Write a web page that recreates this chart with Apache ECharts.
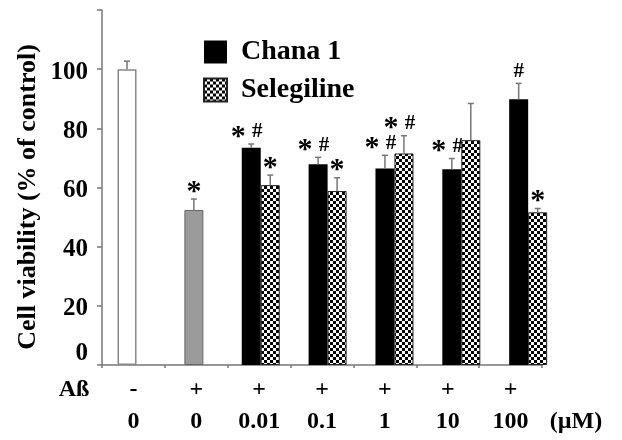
<!DOCTYPE html>
<html><head><meta charset="utf-8">
<script src="https://cdn.jsdelivr.net/npm/echarts@6/dist/echarts.min.js"></script>
<style>html,body{margin:0;padding:0;background:#fff}#c{width:622px;height:440px}</style>
</head><body><div id="c"></div>
<script>
// ---- data ----
const categories = ['0', '0', '0.01', '0.1', '1', '10', '100'];
const abLabels = ['-', '+', '+', '+', '+', '+', '+'];
const yTicks = [0, 20, 40, 60, 80, 100];
const singleValues = [100, 52.4, null, null, null, null, null];
const singleErrors = [2.7, 3.7, null, null, null, null, null];
const singleMarks = ['', '*', '', '', '', '', ''];
const chanaValues = [null, null, 73.4, 67.9, 66.4, 66.2, 89.8];
const chanaErrors = [null, null, 1.3, 2.3, 4.5, 3.6, 5.4];
const chanaMarks = ['', '', '*#', '*#', '*#', '*#', '#'];
const selegValues = [null, null, 60.8, 58.8, 71.5, 76.0, 51.6];
const selegErrors = [null, null, 3.4, 4.5, 6.0, 12.4, 1.3];
const selegMarks = ['', '', '*', '*', '*#', '', '*'];

const SERIF = '"Liberation Serif", "Times New Roman", serif';

// checker pattern
const pc = document.createElement('canvas');
pc.width = 6; pc.height = 6;
const pctx = pc.getContext('2d');
pctx.fillStyle = '#fff'; pctx.fillRect(0, 0, 6, 6);
pctx.fillStyle = '#000'; pctx.fillRect(0, 0, 3, 3); pctx.fillRect(3, 3, 3, 3);
const checker = { image: pc, repeat: 'repeat' };

function starEl(x, y) {
  return { type: 'text', x: x, y: y + 6,
    style: { text: '*', fill: '#000', font: 'bold 30px ' + SERIF, textAlign: 'center', textVerticalAlign: 'middle' } };
}
function hashEl(x, y) {
  return { type: 'text', x: x, y: y + 3,
    style: { text: '#', fill: '#000', font: 'bold 21px ' + SERIF, textAlign: 'center', textVerticalAlign: 'middle' } };
}

function errSeries(xIdx, values, errors, marks, offset) {
  const data = [];
  values.forEach((v, i) => { if (v != null) data.push([i, v, v + errors[i]]); });
  return {
    type: 'custom', xAxisIndex: xIdx, yAxisIndex: 0, silent: true, z: 5,
    data: data,
    encode: { x: 0, y: 2 },
    renderItem: function (params, api) {
      const i = api.value(0);
      const base = api.coord([i, api.value(1)]);
      const top = api.coord([i, api.value(2)]);
      const x = base[0] + offset;
      const ls = { stroke: '#777', lineWidth: 1.5 };
      const children = [
        { type: 'line', shape: { x1: x, y1: base[1], x2: x, y2: top[1] }, style: ls },
        { type: 'line', shape: { x1: x - 3, y1: top[1], x2: x + 3, y2: top[1] }, style: ls }
      ];
      const m = marks[i];
      const ty = top[1];
      if (m === '*#') {
        children.push(starEl(x - 13, ty - 13));
        children.push(hashEl(x + 6, ty - 15));
      } else if (m === '*') {
        children.push(starEl(x, ty - 13));
      } else if (m === '#') {
        children.push(hashEl(x, ty - 15));
      }
      return { type: 'group', children: children };
    }
  };
}

const chart = echarts.init(document.getElementById('c'), null, { renderer: 'canvas' });
chart.setOption({
  animation: false,
  backgroundColor: '#fff',
  grid: [
    { left: 93.6, right: 60.4, top: 10, bottom: 75 },
    { left: 102, right: 80, top: 10, bottom: 75 }
  ],
  legend: {
    data: ['Chana 1', 'Selegiline'],
    orient: 'vertical', left: 203, top: 38, padding: 0,
    itemWidth: 23, itemHeight: 23, itemGap: 10,
    icon: 'rect',
    textStyle: { fontFamily: SERIF, fontWeight: 'bold', fontSize: 28, color: '#000', padding: [0, 0, 0, 9] }
  },
  xAxis: [
    { gridIndex: 0, type: 'category', data: categories, show: false },
    { gridIndex: 0, type: 'category', data: categories, show: false },
    { gridIndex: 1, type: 'category', data: categories,
      axisLine: { show: true, lineStyle: { color: '#777', width: 1.5 } },
      axisTick: { show: true, length: 3, lineStyle: { color: '#777', width: 1.5 } },
      axisLabel: {
        margin: 10, interval: 0,
        formatter: function (v, i) { return '{a|' + abLabels[i] + '}\n{b|' + v + '}'; },
        rich: {
          a: { fontFamily: SERIF, fontWeight: 'bold', fontSize: 24, color: '#000', lineHeight: 30 },
          b: { fontFamily: SERIF, fontWeight: 'bold', fontSize: 24, color: '#000', lineHeight: 34 }
        }
      }
    }
  ],
  yAxis: [
    { gridIndex: 0, type: 'value', min: 0, max: 120, show: false },
    { gridIndex: 1, type: 'value', min: 0, max: 120, interval: 20,
      axisLine: { show: true, lineStyle: { color: '#777', width: 1.5 } },
      axisTick: { show: true, length: 5, lineStyle: { color: '#777', width: 1.5 } },
      splitLine: { show: false },
      axisLabel: {
        margin: 14,
        formatter: function (v) {
          if (yTicks.indexOf(v) < 0) return '';
          return v === 0 ? '{z|0}' : '{n|' + v + '}';
        },
        rich: {
          z: { fontFamily: SERIF, fontWeight: 'bold', fontSize: 25, color: '#000', padding: [0, 0, 22, 0] },
          n: { fontFamily: SERIF, fontWeight: 'bold', fontSize: 25, color: '#000', padding: [6, 0, 0, 0] }
        }
      }
    }
  ],
  series: [
    { name: 'single', type: 'bar', xAxisIndex: 1, yAxisIndex: 0, barWidth: 19,
      data: singleValues.map((v, i) => v == null ? null : {
        value: v,
        itemStyle: i === 0 ? { color: '#fff', borderColor: '#888', borderWidth: 1.5 }
                           : { color: '#9b9b9b', borderColor: '#666', borderWidth: 1 }
      }) },
    { name: 'Chana 1', type: 'bar', xAxisIndex: 0, yAxisIndex: 0, barWidth: 19, barGap: '0%',
      itemStyle: { color: '#000' }, data: chanaValues },
    { name: 'Selegiline', type: 'bar', xAxisIndex: 0, yAxisIndex: 0, barWidth: 19, barGap: '0%',
      itemStyle: { color: checker, borderColor: '#222', borderWidth: 1 }, data: selegValues },
    errSeries(1, singleValues, singleErrors, singleMarks, 0),
    errSeries(0, chanaValues, chanaErrors, chanaMarks, -9.5),
    errSeries(0, selegValues, selegErrors, selegMarks, 9.5)
  ],
  graphic: [
    { type: 'text', x: 28, y: 197, rotation: Math.PI / 2,
      style: { text: 'Cell viability (% of control)', font: 'bold 26px ' + SERIF, fill: '#000', textAlign: 'center', textVerticalAlign: 'middle' } },
    { type: 'text', x: 74, y: 390,
      style: { text: 'Aß', font: 'bold 24px ' + SERIF, fill: '#000', textAlign: 'center', textVerticalAlign: 'middle' } },
    { type: 'text', x: 576, y: 422,
      style: { text: '(µM)', font: 'bold 24px ' + SERIF, fill: '#000', textAlign: 'center', textVerticalAlign: 'middle' } }
  ]
});
</script></body></html>
